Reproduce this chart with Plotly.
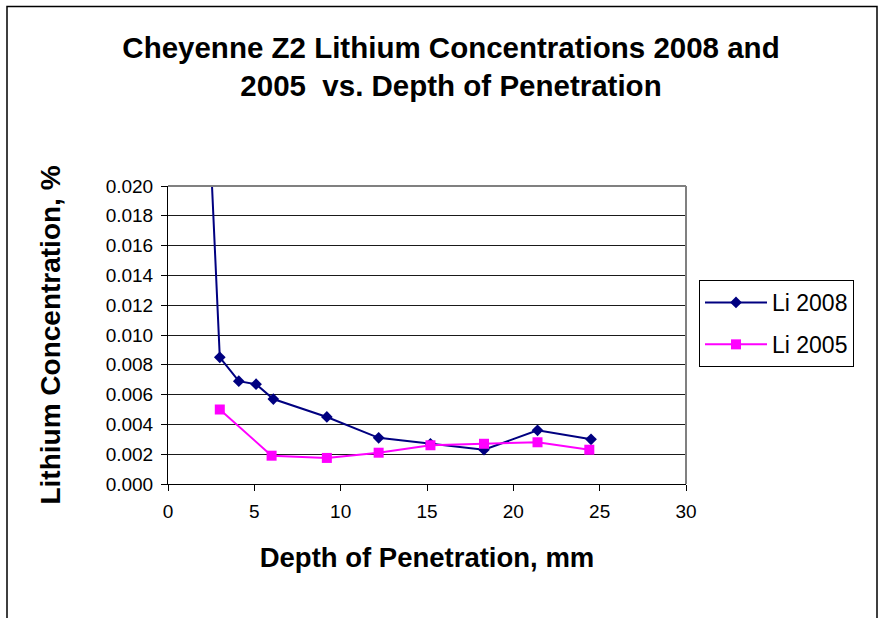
import plotly.graph_objects as go

# Depth of penetration (mm) and lithium concentration (%) per year
depth_2008 = [2.0, 3.0, 4.1, 5.1, 6.1, 9.2, 12.2, 15.2, 18.3, 21.4, 24.5]
li_2008 = [0.034, 0.0085, 0.0069, 0.0067, 0.0057, 0.0045, 0.0031, 0.0027, 0.0023, 0.0036, 0.0030]

depth_2005 = [3.0, 6.0, 9.2, 12.2, 15.2, 18.3, 21.4, 24.4]
li_2005 = [0.0050, 0.0019, 0.00175, 0.0021, 0.0026, 0.0027, 0.0028, 0.0023]

x_ticks = [0, 5, 10, 15, 20, 25, 30]
y_ticks = [0.000, 0.002, 0.004, 0.006, 0.008, 0.010, 0.012, 0.014, 0.016, 0.018, 0.020]

FONT = "Arial, 'Liberation Sans', sans-serif"

W, H = 880, 618
ML, MR, MT, MB = 168, 194, 186, 134
PW, PH = W - ML - MR, H - MT - MB


def px_to_paper_x(px):
    return (px - ML) / PW


def px_to_paper_y(py):
    return (H - MB - py) / PH


fig = go.Figure()

fig.add_trace(go.Scatter(
    x=depth_2008, y=li_2008, name="Li 2008", mode="lines+markers",
    line=dict(color="#000080", width=2),
    marker=dict(symbol="diamond", size=9, color="#000080"),
    legendgroup="a",
))
fig.add_trace(go.Scatter(
    x=depth_2005, y=li_2005, name="Li 2005", mode="lines+markers",
    line=dict(color="#FF00FF", width=2),
    marker=dict(symbol="square", size=10, color="#FF00FF"),
    legendgroup="b",
))

# Plot-area frame on the top and right sides
fig.add_shape(type="line", xref="paper", yref="paper", x0=0, x1=1, y0=1, y1=1,
              line=dict(color="#808080", width=2), layer="above")
fig.add_shape(type="line", xref="paper", yref="paper", x0=1, x1=1, y0=0, y1=1,
              line=dict(color="#808080", width=2), layer="above")

# Chart-area border
fig.add_shape(type="rect", xref="paper", yref="paper",
              x0=px_to_paper_x(7), x1=px_to_paper_x(877),
              y0=px_to_paper_y(660), y1=px_to_paper_y(6.5),
              line=dict(color="black", width=1.5), layer="below")

fig.update_layout(
    width=W, height=H,
    margin=dict(l=ML, r=MR, t=MT, b=MB, autoexpand=False),
    paper_bgcolor="white", plot_bgcolor="white",
    font=dict(family=FONT, color="black"),
    title=dict(
        text="<b>Cheyenne Z2 Lithium Concentrations 2008 and<br>2005\u00a0 vs. Depth of Penetration</b>",
        font=dict(size=29.5, family=FONT, color="black"),
        xref="paper", x=px_to_paper_x(451), xanchor="center",
        yref="container", y=1 - 58 / H, yanchor="middle",
    ),
    showlegend=True,
    legend=dict(
        x=px_to_paper_x(699), y=px_to_paper_y(280), xanchor="left", yanchor="top",
        xref="paper", yref="paper",
        bordercolor="black", borderwidth=1, bgcolor="white",
        font=dict(size=23, family=FONT, color="black"),
        itemwidth=62, tracegroupgap=9, traceorder="grouped",
    ),
)

fig.update_xaxes(
    range=[0, 30], tickvals=x_ticks, ticktext=[str(v) for v in x_ticks],
    showgrid=False, zeroline=False,
    showline=True, linecolor="black", linewidth=1,
    ticks="outside", ticklen=6, tickcolor="black",
    tickfont=dict(size=19, family=FONT, color="black"),
    ticklabelstandoff=4,
    title=dict(text="<b>Depth of Penetration, mm</b>",
               font=dict(size=27.5, family=FONT, color="black"), standoff=26),
)
fig.update_yaxes(
    range=[0, 0.020], tickvals=y_ticks, ticktext=[f"{v:.3f}" for v in y_ticks],
    showgrid=True, gridcolor="#1a1a1a", gridwidth=1, zeroline=False,
    showline=True, linecolor="black", linewidth=1,
    ticks="outside", ticklen=6, tickcolor="black",
    tickfont=dict(size=19, family=FONT, color="black"),
    ticklabelstandoff=4,
    title=dict(text="<b>Lithium Concentration, %</b>",
               font=dict(size=28, family=FONT, color="black"), standoff=36),
)

fig.write_html("out.html")
